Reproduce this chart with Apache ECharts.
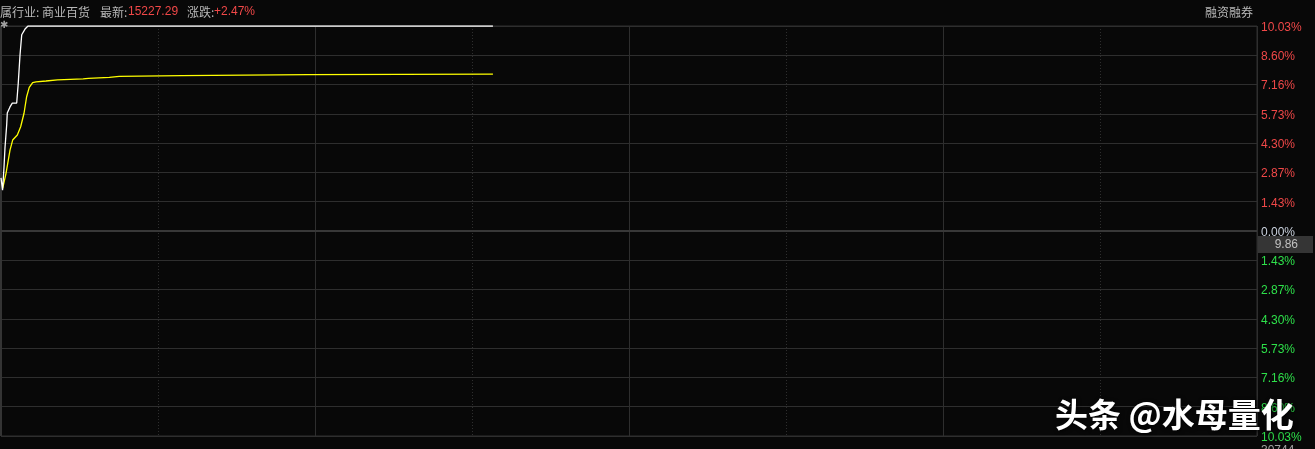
<!DOCTYPE html>
<html><head><meta charset="utf-8">
<script src="https://cdn.jsdelivr.net/npm/echarts@6/dist/echarts.min.js"></script>
<style>html,body{margin:0;padding:0;background:#080808;}#c{width:1315px;height:449px;}</style>
</head><body><div id="c"></div>
<script>
// minutes since open (0..240)
const priceTimes = [0, 0.3, 0.57, 0.76, 1.09, 1.2, 1.72, 2.16, 3.0, 3.3, 3.63, 3.96, 4.59, 5.16, 94];
const priceValues = [2.6, 2.0, 3.1, 4.06, 5.2, 5.77, 6.07, 6.26, 6.26, 7.24, 8.6, 9.6, 9.88, 10.03, 10.03];
const avgTimes = [0.32, 0.96, 1.72, 2.23, 3.12, 3.76, 4.4, 4.9, 5.4, 6.05, 6.7, 8.6, 10.8, 15.7, 16.7, 20.7, 22.6, 34.5, 58.7, 59, 94];
const avgValues = [2.09, 2.82, 3.96, 4.45, 4.7, 5.1, 5.76, 6.57, 7.03, 7.26, 7.3, 7.34, 7.39, 7.44, 7.47, 7.52, 7.57, 7.6, 7.65, 7.68, 7.68];
const limitPct = 10.03;
const headerPrefix = '属行业: 商业百货';
const lastLabel = '最新:';
const lastValue = '15227.29';
const chgLabel = '涨跌:';
const chgValue = '+2.47%';
const priceTag = '9.86';
const volText = '30744';
const rightTitle = '融资融券';
const watermark = '头条 @水母量化';

const chart = echarts.init(document.getElementById('c'));
const step = limitPct / 7;
const cjk = 'Noto Sans CJK SC, Liberation Sans';
const lat = 'Liberation Sans, Arial';
const labelBase = {fontSize: 12, fontFamily: lat, padding: [3, 0, 0, 0]};
chart.setOption({
  backgroundColor: '#080808',
  animation: false,
  grid: {left: 1, right: 58, top: 26, bottom: 13, show: false},
  xAxis: [
    {type: 'value', min: 0, max: 240, interval: 30,
     axisLine: {show: false}, axisTick: {show: false}, axisLabel: {show: false},
     splitLine: {show: true, lineStyle: {color: '#2e2e2e', type: [1, 2], width: 1}}},
    {type: 'value', min: 0, max: 240, interval: 60,
     axisLine: {show: false}, axisTick: {show: false}, axisLabel: {show: false},
     splitLine: {show: true, lineStyle: {color: '#2e2e2e', width: 1}}}
  ],
  yAxis: {
    type: 'value', position: 'right', min: -limitPct, max: limitPct, interval: step,
    axisLine: {show: true, lineStyle: {color: '#333333', width: 1}},
    axisTick: {show: false},
    splitLine: {show: true, lineStyle: {color: '#2e2e2e', width: 1}},
    axisLabel: {
      margin: 4,
      formatter: v => {
        const k = v > 0.001 ? 'u' : (v < -0.001 ? 'd' : 'z');
        return '{' + k + '|' + Math.abs(v).toFixed(2) + '%}';
      },
      rich: {
        u: Object.assign({color: '#f04848'}, labelBase),
        d: Object.assign({color: '#2ee04a'}, labelBase),
        z: Object.assign({color: '#c8d0dc'}, labelBase)
      }
    }
  },
  series: [
    {type: 'line', xAxisIndex: 0, data: avgTimes.map((t, i) => [t, avgValues[i]]),
     showSymbol: false, lineStyle: {color: '#ffff00', width: 1.3}, z: 3,
     markLine: {silent: true, symbol: 'none', label: {show: false},
       lineStyle: {color: '#383838', width: 2, type: 'solid'}, data: [{yAxis: 0}]}},
    {type: 'line', xAxisIndex: 0, data: priceTimes.map((t, i) => [t, priceValues[i]]),
     showSymbol: false, lineStyle: {color: '#ffffff', width: 1.3}, z: 4}
  ],
  graphic: [
    {type: 'rect', shape: {x: 0, y: 26, width: 2, height: 410}, style: {fill: '#3a3a3a'}, z: 1},
    {type: 'rect', shape: {x: 1, y: 26, width: 1256, height: 410}, style: {fill: 'none', stroke: '#2e2e2e', lineWidth: 1}, z: 1},
    {type: 'text', x: 0, y: 12, z: 10, style: {text: headerPrefix, fill: '#b8b8b8', fontSize: 12, fontFamily: cjk, verticalAlign: 'middle'}},
    {type: 'text', x: 100, y: 12, z: 10, style: {text: lastLabel, fill: '#b8b8b8', fontSize: 12, fontFamily: cjk, verticalAlign: 'middle'}},
    {type: 'text', x: 128, y: 12, z: 10, style: {text: lastValue, fill: '#f04848', fontSize: 12, fontFamily: lat, verticalAlign: 'middle'}},
    {type: 'text', x: 187, y: 12, z: 10, style: {text: chgLabel, fill: '#b8b8b8', fontSize: 12, fontFamily: cjk, verticalAlign: 'middle'}},
    {type: 'text', x: 214, y: 12, z: 10, style: {text: chgValue, fill: '#f04848', fontSize: 12, fontFamily: lat, verticalAlign: 'middle'}},
    {type: 'text', x: 1205, y: 12, z: 10, style: {text: rightTitle, fill: '#b8b8b8', fontSize: 12, fontFamily: cjk, verticalAlign: 'middle'}},
    {type: 'text', left: 0, top: 20, z: 10, style: {text: '✱', fill: '#a0a0a0', fontSize: 10, fontFamily: 'DejaVu Sans'}},
    {type: 'rect', shape: {x: 1258, y: 236, width: 55, height: 17}, style: {fill: '#353535'}, z: 10},
    {type: 'text', x: 1298, y: 245, z: 11, style: {text: priceTag, fill: '#c0c0c0', fontSize: 12, fontFamily: lat, align: 'right', verticalAlign: 'middle'}},
    {type: 'text', x: 1261, y: 445, z: 11, style: {text: volText, fill: '#a0a0a0', fontSize: 12, fontFamily: lat, verticalAlign: 'top'}},
    {type: 'text', x: 1055, y: 414, z: 20, style: {text: watermark, fill: '#ffffff', fontSize: 33, fontWeight: 'bold',
      fontFamily: 'Noto Sans CJK SC', verticalAlign: 'middle', textShadowColor: 'rgba(0,0,0,0.9)', textShadowBlur: 4, textShadowOffsetX: 1, textShadowOffsetY: 1}}
  ]
});
</script></body></html>
